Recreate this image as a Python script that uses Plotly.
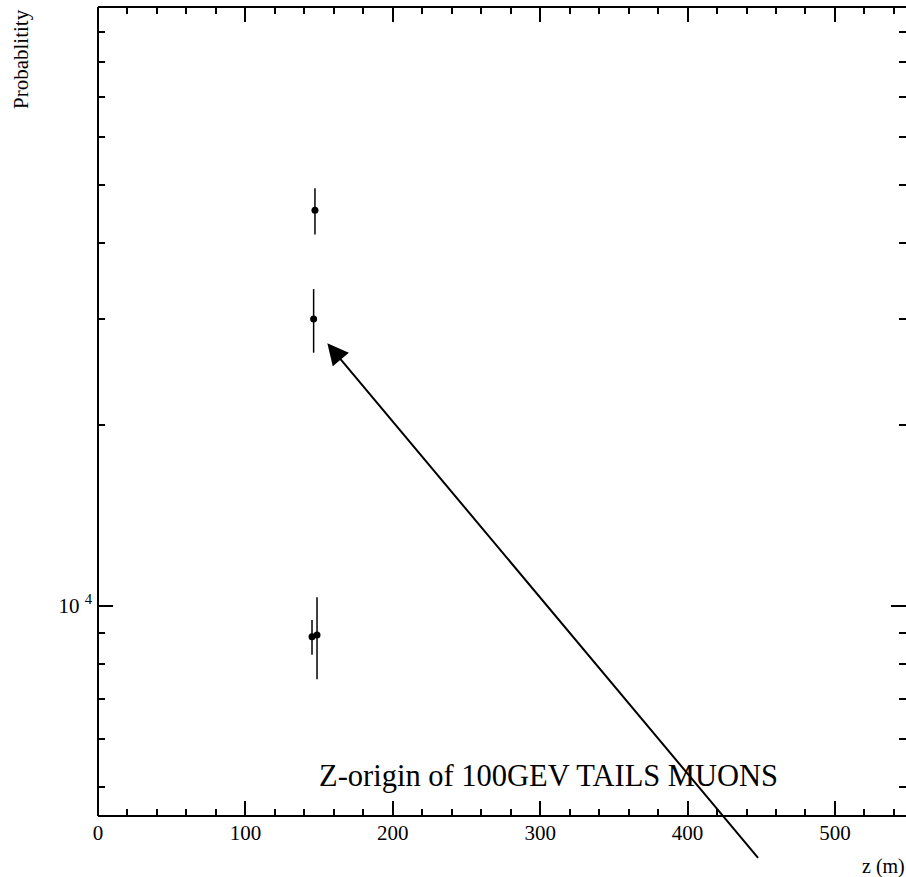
import plotly.graph_objects as go

# ---- data ----
z_pos = [147.2, 146.3, 145.2, 148.6]          # z (m)
prob = [45400, 29960, 8880, 8940]             # probability
prob_err = [3990, 3630, 590, 1390]            # symmetric error

x_ticks = [0, 100, 200, 300, 400, 500]
y_major = [10000]
y_major_text = ["10 <sup>4</sup>"]
y_minor = [5000, 6000, 7000, 8000, 9000, 20000, 30000, 40000, 50000,
           60000, 70000, 80000, 90000]

title_text = "Z-origin of 100GEV TAILS MUONS"
y_title = "Probablitity"
x_title = "z (m)"

# ---- layout geometry ----
W, H = 906, 877
ML, MR, MT, MB = 98, 0, 7, 61
PW, PH = W - ML - MR, H - MT - MB
X_RANGE = [0, 548.2]
Y_RANGE = [3.6505, 4.995]
FONT = "Liberation Serif, Times New Roman, serif"


def px2paper(px, py):
    return (px - ML) / PW, (H - MB - py) / PH


fig = go.Figure()
fig.add_trace(go.Scatter(
    x=z_pos, y=prob, mode="markers",
    marker=dict(color="black", size=7),
    error_y=dict(type="data", array=prob_err, visible=True,
                 color="black", thickness=1.5, width=0),
    showlegend=False, cliponaxis=False,
))

axis_common = dict(
    showline=False, mirror="allticks",
    ticks="inside", tickcolor="black", tickwidth=1.5, ticklen=15,
    showgrid=False, zeroline=False,
    tickfont=dict(family=FONT, size=21, color="black"),
)

fig.update_xaxes(
    range=X_RANGE, tickmode="array", tickvals=x_ticks,
    minor=dict(dtick=20, tick0=0, ticks="inside", ticklen=7,
               tickwidth=1.5, tickcolor="black", showgrid=False),
    ticklabelstandoff=2,
    **axis_common,
)
fig.update_yaxes(
    type="log", range=Y_RANGE, tickmode="array",
    tickvals=y_major, ticktext=y_major_text,
    minor=dict(tickmode="array", tickvals=y_minor, ticks="inside", ticklen=7,
               tickwidth=1.5, tickcolor="black", showgrid=False),
    ticklabelstandoff=5,
    **axis_common,
)

# frame lines: left, bottom, top (right edge lies beyond the window)
frame = dict(type="line", xref="paper", yref="paper",
             line=dict(color="black", width=2), layer="above")
shapes = [
    dict(x0=0, x1=0, y0=0, y1=1, **frame),
    dict(x0=0, x1=1, y0=0, y1=0, **frame),
    dict(x0=0, x1=1, y0=1, y1=1, **frame),
]

annotations = []
# main label
tx, ty = px2paper(548, 776)
annotations.append(dict(text=title_text, xref="paper", yref="paper", x=tx, y=ty,
                        xanchor="center", yanchor="middle", showarrow=False,
                        font=dict(family=FONT, size=30.5, color="black")))
# y title
yx, yy = px2paper(21, 59)
annotations.append(dict(text=y_title, xref="paper", yref="paper", x=yx, y=yy,
                        xanchor="center", yanchor="middle", showarrow=False,
                        textangle=-90,
                        font=dict(family=FONT, size=21, color="black")))
# x title
zx, zy = px2paper(860, 866)
annotations.append(dict(text=x_title, xref="paper", yref="paper", x=zx, y=zy,
                        xanchor="left", yanchor="middle", showarrow=False,
                        font=dict(family=FONT, size=20, color="black")))
# arrow
annotations.append(dict(text="", xref="x", yref="y", x=155.6, y=4.436,
                        ax=432, ay=516, showarrow=True, arrowhead=2,
                        arrowwidth=2, arrowsize=2.1, arrowcolor="black",
                        standoff=0))

fig.update_layout(
    width=W, height=H,
    margin=dict(l=ML, r=MR, t=MT, b=MB, autoexpand=False),
    paper_bgcolor="white", plot_bgcolor="white",
    annotations=annotations, shapes=shapes,
    font=dict(family=FONT, color="black"),
)

fig.write_html("out.html")
